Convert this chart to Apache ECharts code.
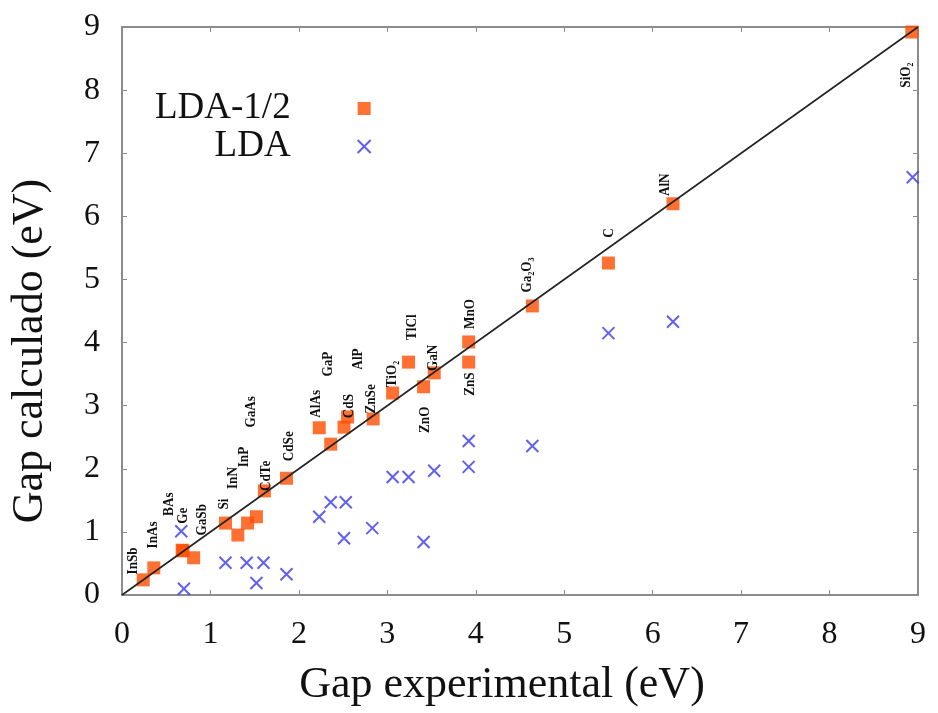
<!DOCTYPE html>
<html>
<head>
<meta charset="utf-8">
<script src="https://cdn.jsdelivr.net/npm/echarts@6/dist/echarts.min.js"></script>
<style>
  html, body { margin: 0; padding: 0; background: #fff; }
  #chart { width: 938px; height: 713px; }
</style>
</head>
<body>
<div id="chart"></div>
<script>
// Materials and their band gaps (eV)
const materials = ['InSb', 'InAs', 'BAs', 'Ge', 'GaSb', 'Si', 'InN', 'InP', 'GaAs', 'CdTe',
  'CdSe', 'AlAs', 'GaP', 'CdS', 'AlP', 'ZnSe', 'TiO\u2082', 'TlCl', 'ZnO', 'GaN',
  'MnO', 'ZnS', 'Ga\u2082O\u2083', 'C', 'AlN', 'SiO\u2082'];
const gapExperimental = [0.24, 0.36, 0.68, 0.69, 0.81, 1.17, 1.31, 1.42, 1.52, 1.61,
  1.86, 2.23, 2.36, 2.51, 2.55, 2.84, 3.06, 3.24, 3.41, 3.53,
  3.92, 3.92, 4.64, 5.50, 6.23, 8.93];
const gapLDAhalf = [0.24, 0.43, 0.71, 0.70, 0.59, 1.14, 0.95, 1.14, 1.24, 1.65,
  1.85, 2.65, 2.39, 2.66, 2.82, 2.79, 3.20, 3.69, 3.30, 3.52,
  4.01, 3.69, 4.58, 5.26, 6.20, 8.92];

// Plain LDA results (experimental gap, calculated gap)
const ldaExperimental = [0.67, 0.70, 1.17, 1.41, 1.60, 1.52, 1.86, 2.23, 2.36, 2.53, 2.51,
  2.83, 3.06, 3.24, 3.41, 3.53, 3.92, 3.92, 4.64, 5.50, 6.23, 8.94];
const ldaCalculated = [1.01, 0.10, 0.51, 0.51, 0.51, 0.19, 0.33, 1.24, 1.47, 1.47, 0.90,
  1.06, 1.87, 1.87, 0.84, 1.97, 2.44, 2.03, 2.36, 4.15, 4.33, 6.62];

const axisTicks = [0, 1, 2, 3, 4, 5, 6, 7, 8, 9];
const diagonal = [[0, 0], [9, 9]];

// Pixel offsets of each material label from its marker (label centre)
const labelOffsets = [[-10, -19], [-1, -33], [-13, -46], [0, -35], [8, -38], [-1, -19], [-5, -57],
  [-4, -66], [-5, -105], [2, -15], [2, -32], [-3, -24], [-3, -80], [5, -21], [10, -58],
  [-2, -20], [-1, -19], [3, -35], [1, 33], [-1, -15], [1, -28], [1, 22], [-5, -31],
  [1, -30], [-8, -19], [-6, 43]];

const serif = '"Liberation Serif", "DejaVu Serif", serif';
const frameColor = '#8c8c8c';
const orange = '#ff4d00';
const blue = '#3a3ae8';
const crossPath = 'path://M0,0L10,10M10,0L0,10';

const halfData = gapExperimental.map((x, i) => [x, gapLDAhalf[i]]);
const ldaData = ldaExperimental.map((x, i) => [x, ldaCalculated[i]]);

function valueAxis(extra) {
  return Object.assign({
    type: 'value',
    min: axisTicks[0],
    max: axisTicks[axisTicks.length - 1],
    interval: 1,
    axisLine: { show: true, onZero: false, lineStyle: { color: frameColor, width: 2 } },
    axisTick: { show: true, inside: true, length: 5, lineStyle: { color: frameColor, width: 1 } },
    splitLine: { show: false },
    axisLabel: { show: false }
  }, extra);
}

const chart = echarts.init(document.getElementById('chart'), null, { renderer: 'canvas' });

chart.setOption({
  backgroundColor: '#ffffff',
  animation: false,
  grid: { left: 121, right: 20, top: 27, bottom: 118, containLabel: false },
  legend: {
    orient: 'vertical',
    left: 150,
    top: 85,
    align: 'right',
    itemGap: 1,
    itemWidth: 13,
    itemHeight: 13,
    selectedMode: false,
    textStyle: { fontFamily: serif, fontSize: 37, color: '#111', padding: [0, 62, 0, 0] },
    data: [
      { name: 'LDA-1/2', icon: 'rect', itemStyle: { color: orange } },
      { name: 'LDA', icon: crossPath, itemStyle: { color: 'none', borderColor: blue, borderWidth: 2 } }
    ]
  },
  xAxis: [
    valueAxis({
      position: 'bottom',
      name: 'Gap experimental (eV)',
      nameLocation: 'middle',
      nameGap: 68,
      nameTextStyle: { fontFamily: serif, fontSize: 44, color: '#111', padding: [0, 36, 0, 0] },
      axisLabel: { show: true, margin: 24, fontFamily: serif, fontSize: 32, color: '#111',
        formatter: v => String(v) }
    }),
    valueAxis({ position: 'top' })
  ],
  yAxis: [
    valueAxis({
      position: 'left',
      name: 'Gap calculado (eV)',
      nameLocation: 'middle',
      nameGap: 70,
      nameTextStyle: { fontFamily: serif, fontSize: 44, color: '#111', padding: [0, 80, 0, 0] },
      axisLabel: { show: true, margin: 22, fontFamily: serif, fontSize: 32, color: '#111',
        formatter: v => String(v) }
    }),
    valueAxis({ position: 'right' })
  ],
  series: [
    {
      name: 'LDA',
      type: 'scatter',
      data: ldaData,
      symbol: crossPath,
      symbolSize: 12,
      itemStyle: { color: 'none', borderColor: blue, borderWidth: 2 },
      z: 2
    },
    {
      name: 'LDA-1/2',
      type: 'scatter',
      data: halfData,
      symbol: 'rect',
      symbolSize: 13,
      itemStyle: { color: orange },
      z: 3
    },
    {
      name: 'y = x',
      type: 'line',
      data: diagonal,
      showSymbol: false,
      symbol: 'none',
      lineStyle: { color: '#222', width: 1.6 },
      z: 4,
      silent: true
    },
    {
      name: 'materials',
      type: 'custom',
      data: halfData,
      z: 5,
      silent: true,
      renderItem: function (params, api) {
        const p = api.coord([api.value(0), api.value(1)]);
        const off = labelOffsets[params.dataIndex];
        // condensed bold serif, reading bottom to top
        return {
          type: 'text',
          x: p[0] + off[0],
          y: p[1] + off[1],
          rotation: Math.PI / 2,
          scaleX: 0.85,
          style: {
            text: materials[params.dataIndex],
            font: 'bold 15.5px ' + serif,
            fill: '#111',
            align: 'center',
            verticalAlign: 'middle'
          }
        };
      }
    }
  ]
});
</script>
</body>
</html>
